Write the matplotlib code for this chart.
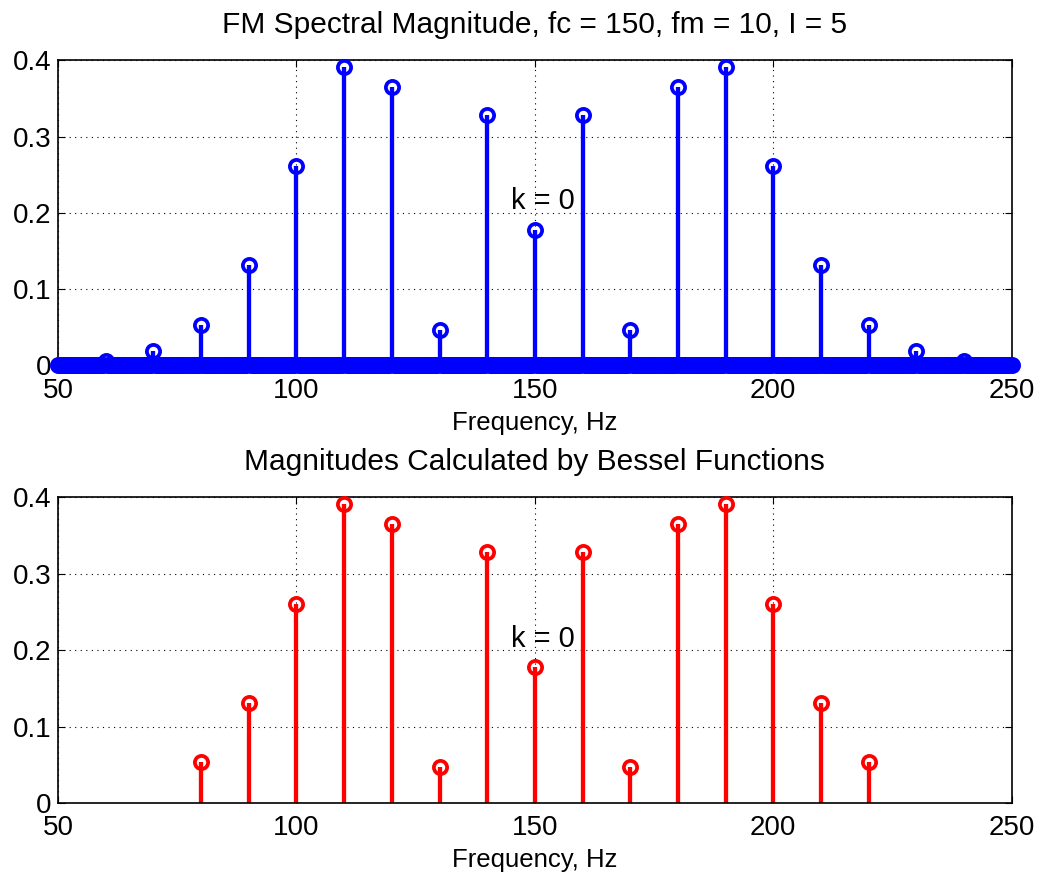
import matplotlib
matplotlib.use('Agg')
import matplotlib.pyplot as plt
import numpy as np

plt.rcParams['font.family'] = ['Liberation Sans', 'DejaVu Sans']

# sideband frequencies (Hz) and magnitudes
freq_top = [60, 70, 80, 90, 100, 110, 120, 130, 140, 150,
            160, 170, 180, 190, 200, 210, 220, 230, 240]
mag_top = [0.0055, 0.0184, 0.0534, 0.131, 0.261, 0.391, 0.365, 0.0466, 0.328, 0.178,
           0.328, 0.0466, 0.365, 0.391, 0.261, 0.131, 0.0534, 0.0184, 0.0055]

freq_bot = [80, 90, 100, 110, 120, 130, 140, 150, 160, 170, 180, 190, 200, 210, 220]
mag_bot = [0.0534, 0.131, 0.261, 0.391, 0.365, 0.0466, 0.328, 0.178,
           0.328, 0.0466, 0.365, 0.391, 0.261, 0.131, 0.0534]

# spectrum bins over the plotted band (0.5 Hz spacing), zero except sidebands
f_axis = np.arange(50, 250.01, 0.5)
spec = np.zeros_like(f_axis)
for f, m in zip(freq_top, mag_top):
    spec[np.isclose(f_axis, f)] = m

fig = plt.figure(figsize=(10.4, 8.74), dpi=100)
ax1 = fig.add_axes([0.0558, 0.582, 0.917, 0.349])
ax2 = fig.add_axes([0.0558, 0.0813, 0.917, 0.3497])


def draw_stem(ax, x, y, color):
    ml, sl, bl = ax.stem(x, y, basefmt=' ')
    plt.setp(sl, color=color, linewidth=3.1)
    plt.setp(ml, color=color, markersize=9.5, markerfacecolor='none',
             markeredgewidth=2.7, clip_on=False, zorder=3)


draw_stem(ax1, f_axis, spec, 'blue')
draw_stem(ax2, freq_bot, mag_bot, 'red')

titles = ['FM Spectral Magnitude, fc = 150, fm = 10, I = 5',
          'Magnitudes Calculated by Bessel Functions']
for ax, t in zip([ax1, ax2], titles):
    ax.set_xlim(50, 250)
    ax.set_ylim(0, 0.4)
    ax.set_xticks([50, 100, 150, 200, 250])
    ax.set_yticks([0, 0.1, 0.2, 0.3, 0.4])
    ax.set_yticklabels(['0', '0.1', '0.2', '0.3', '0.4'])
    ax.grid(True, linestyle=(0, (1, 4)), color='black', linewidth=0.8)
    ax.set_axisbelow(True)
    ax.tick_params(direction='in', labelsize=20, length=5,
                   top=True, right=True)
    ax.tick_params(axis='x', pad=9)
    ax.tick_params(axis='y', pad=5)
    ax.set_xlabel('Frequency, Hz', fontsize=18.5, labelpad=5)
    ax.set_title(t, fontsize=21.5, pad=20)
    ax.text(145, 0.215, 'k = 0', fontsize=21, va='center', ha='left')
    for s in ax.spines.values():
        s.set_linewidth(1.2)

fig.savefig('out.png', dpi=100)
